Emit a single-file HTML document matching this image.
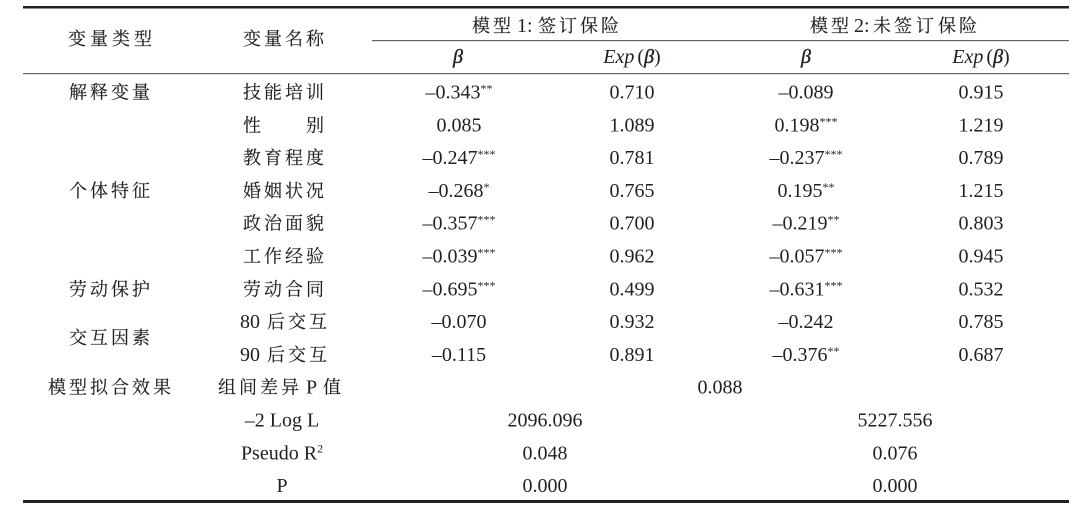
<!DOCTYPE html>
<html>
<head>
<meta charset="utf-8">
<style>
  html,body{margin:0;padding:0;background:#fff;}
  svg{display:block;}
  .cj{font-family:"Liberation Serif","Noto Serif CJK SC",serif;font-size:18px;fill:#231f20;stroke:#231f20;stroke-width:0.15px;}
  .nm{font-family:"Liberation Serif","Noto Serif CJK SC",serif;font-size:20px;fill:#231f20;}
  .it{font-family:"Liberation Serif",serif;font-size:20px;font-style:italic;fill:#231f20;}
  .bt{stroke:#231f20;stroke-width:0.4px;}
  .st{font-size:12px;}
</style>
</head>
<body>
<svg width="1080" height="514" viewBox="0 0 1080 514" xmlns="http://www.w3.org/2000/svg">
  <rect x="0" y="0" width="1080" height="514" fill="#fff"/>
  <!-- rules -->
  <rect x="23" y="6" width="1046" height="2.5" fill="#222"/>
  <rect x="372" y="40" width="697" height="1.2" fill="#666"/>
  <rect x="23" y="73" width="1046" height="1.2" fill="#666"/>
  <rect x="23" y="500" width="1046" height="3" fill="#222"/>

  <!-- header -->
  <text class="cj" x="68 90 112 134" y="45">变量类型</text>
  <text class="cj" x="243 264 285 306" y="45">变量名称</text>

  <text class="cj" x="472 493" y="32">模型</text>
  <text class="nm" x="517" y="32">1:</text>
  <text class="cj" x="538 559 580 601" y="32">签订保险</text>

  <text class="cj" x="810 831" y="32">模型</text>
  <text class="nm" x="854" y="32">2:</text>
  <text class="cj" x="873 894 916 938 959" y="32">未签订保险</text>

  <text class="it bt" x="458" y="63" text-anchor="middle">β</text>
  <text class="it" x="632" y="63" text-anchor="middle">Exp<tspan font-style="normal" dx="3">(</tspan><tspan class="bt">β</tspan><tspan font-style="normal">)</tspan></text>
  <text class="it bt" x="806" y="63" text-anchor="middle">β</text>
  <text class="it" x="981" y="63" text-anchor="middle">Exp<tspan font-style="normal" dx="3">(</tspan><tspan class="bt">β</tspan><tspan font-style="normal">)</tspan></text>

  <!-- column 1 -->
  <text class="cj" x="69 90 111 132" y="98.5">解释变量</text>
  <text class="cj" x="69 90 111 132" y="196.9">个体特征</text>
  <text class="cj" x="69 90 111 132" y="295.3">劳动保护</text>
  <text class="cj" x="69 90 111 132" y="344">交互因素</text>
  <text class="cj" x="48 69 90 111 132 153" y="393.7">模型拟合效果</text>

  <!-- column 2 -->
  <text class="cj" x="243 264 285 306" y="98.5">技能培训</text>
  <text class="cj" x="243" y="131.3">性</text>
  <text class="cj" x="306" y="131.3">别</text>
  <text class="cj" x="243 264 285 306" y="164.1">教育程度</text>
  <text class="cj" x="243 264 285 306" y="196.9">婚姻状况</text>
  <text class="cj" x="243 264 285 306" y="229.7">政治面貌</text>
  <text class="cj" x="243 264 285 306" y="262.5">工作经验</text>
  <text class="cj" x="243 264 285 306" y="295.3">劳动合同</text>
  <text class="nm" x="240" y="328.1">80</text>
  <text class="cj" x="267 288 309" y="328.1">后交互</text>
  <text class="nm" x="240" y="360.9">90</text>
  <text class="cj" x="267 288 309" y="360.9">后交互</text>
  <text class="cj" x="218 239 260 281" y="393.7">组间差异</text>
  <text class="nm" x="306" y="393.7">P</text>
  <text class="cj" x="323" y="393.7">值</text>
  <text class="nm" x="282" y="426.5" text-anchor="middle">–2 Log L</text>
  <text class="nm" x="282" y="459.3" text-anchor="middle">Pseudo R<tspan font-size="12" dy="-7">2</tspan></text>
  <text class="nm" x="282" y="492.1" text-anchor="middle">P</text>

  <!-- data rows -->
  <g class="nm" text-anchor="middle">
    <text x="459" y="98.5">–0.343<tspan class="st" dy="-6">**</tspan></text>
    <text x="632" y="98.5">0.710</text>
    <text x="806" y="98.5">–0.089</text>
    <text x="981" y="98.5">0.915</text>

    <text x="459" y="131.3">0.085</text>
    <text x="632" y="131.3">1.089</text>
    <text x="806" y="131.3">0.198<tspan class="st" dy="-6">***</tspan></text>
    <text x="981" y="131.3">1.219</text>

    <text x="459" y="164.1">–0.247<tspan class="st" dy="-6">***</tspan></text>
    <text x="632" y="164.1">0.781</text>
    <text x="806" y="164.1">–0.237<tspan class="st" dy="-6">***</tspan></text>
    <text x="981" y="164.1">0.789</text>

    <text x="459" y="196.9">–0.268<tspan class="st" dy="-6">*</tspan></text>
    <text x="632" y="196.9">0.765</text>
    <text x="806" y="196.9">0.195<tspan class="st" dy="-6">**</tspan></text>
    <text x="981" y="196.9">1.215</text>

    <text x="459" y="229.7">–0.357<tspan class="st" dy="-6">***</tspan></text>
    <text x="632" y="229.7">0.700</text>
    <text x="806" y="229.7">–0.219<tspan class="st" dy="-6">**</tspan></text>
    <text x="981" y="229.7">0.803</text>

    <text x="459" y="262.5">–0.039<tspan class="st" dy="-6">***</tspan></text>
    <text x="632" y="262.5">0.962</text>
    <text x="806" y="262.5">–0.057<tspan class="st" dy="-6">***</tspan></text>
    <text x="981" y="262.5">0.945</text>

    <text x="459" y="295.3">–0.695<tspan class="st" dy="-6">***</tspan></text>
    <text x="632" y="295.3">0.499</text>
    <text x="806" y="295.3">–0.631<tspan class="st" dy="-6">***</tspan></text>
    <text x="981" y="295.3">0.532</text>

    <text x="459" y="328.1">–0.070</text>
    <text x="632" y="328.1">0.932</text>
    <text x="806" y="328.1">–0.242</text>
    <text x="981" y="328.1">0.785</text>

    <text x="459" y="360.9">–0.115</text>
    <text x="632" y="360.9">0.891</text>
    <text x="806" y="360.9">–0.376<tspan class="st" dy="-6">**</tspan></text>
    <text x="981" y="360.9">0.687</text>

    <text x="720" y="393.7">0.088</text>
    <text x="545" y="426.5">2096.096</text>
    <text x="895" y="426.5">5227.556</text>
    <text x="545" y="459.3">0.048</text>
    <text x="895" y="459.3">0.076</text>
    <text x="545" y="492.1">0.000</text>
    <text x="895" y="492.1">0.000</text>
  </g>
</svg>
</body>
</html>
